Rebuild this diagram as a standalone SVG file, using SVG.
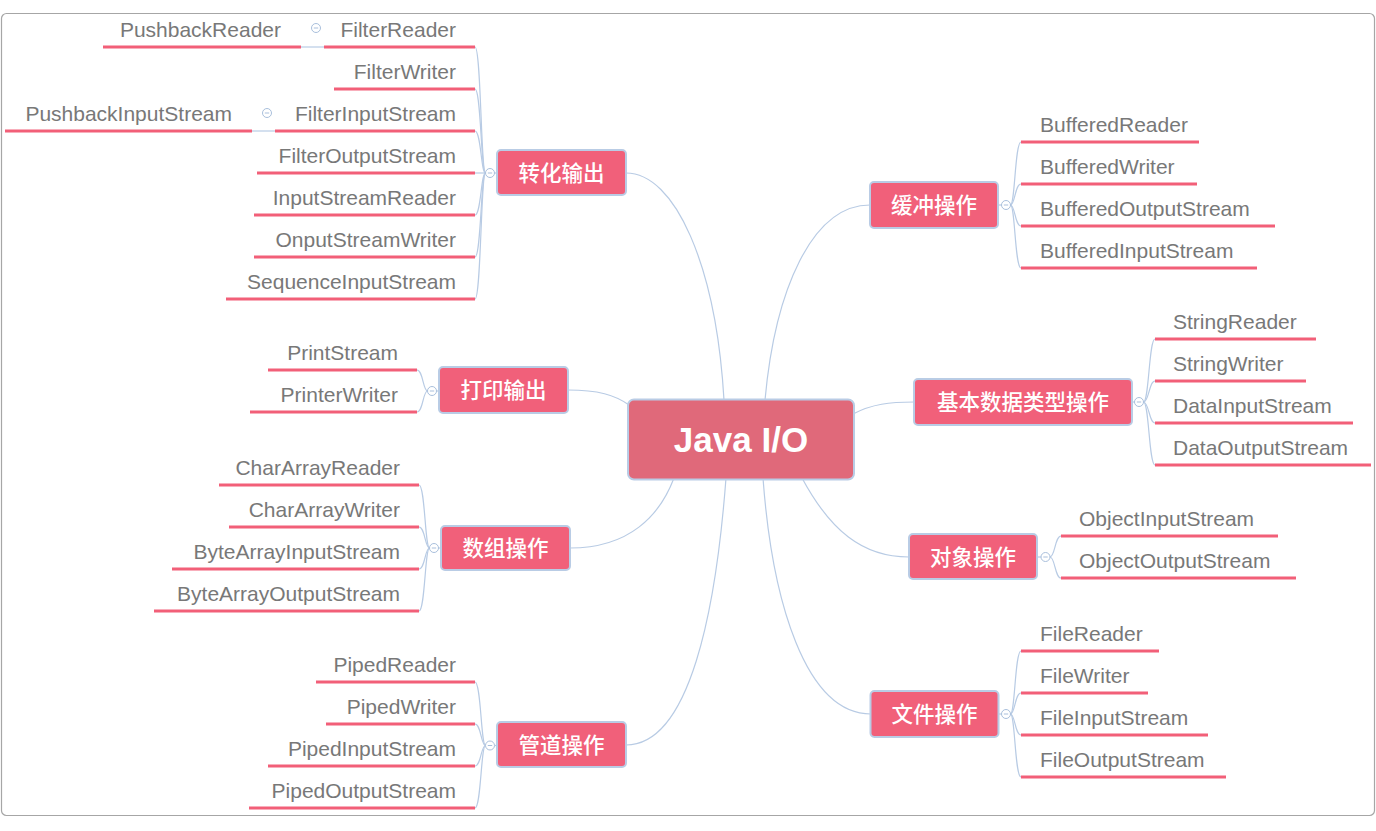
<svg xmlns="http://www.w3.org/2000/svg" width="1376" height="831" viewBox="0 0 1376 831">
<style>
.frame{fill:#fff;stroke:#a6a6a6;stroke-width:1.2}
.conn{fill:none;stroke:#b8cbe4;stroke-width:1.2}
.root{fill:#e0697a;stroke:#b9cce5;stroke-width:2}
.br{fill:#f1607a;stroke:#b9cce5;stroke-width:2}
.rt{font-family:"Liberation Sans",Arial,sans-serif;font-weight:bold;font-size:35px;fill:#fff;text-anchor:middle}
.bt{font-family:"Noto Sans CJK SC","Liberation Sans",sans-serif;font-size:21.5px;font-weight:500;fill:#fff;text-anchor:middle}
.lt{font-family:"Liberation Sans",Arial,sans-serif;font-size:21px;fill:#787878}
.le{text-anchor:end}
.ul{stroke:#f25f78;stroke-width:3}
.tog circle{fill:#fff;stroke:#a9bfdc;stroke-width:1}
.tog line{stroke:#a9bfdc;stroke-width:1}
</style>
<defs>
<g id="minus" class="tog"><circle cx="0" cy="0" r="4.5"/><line x1="-2.2" y1="0" x2="2.2" y2="0"/></g>
</defs>
<rect class="frame" x="1.5" y="13.5" width="1373" height="802" rx="5"/>

<g id="connectors">
<!-- root to branches -->
<path class="conn" d="M626 173 C675 173 716 265 724 400"/>
<path class="conn" d="M765 400 C775 290 812 205 870 205"/>
<path class="conn" d="M568 390 C598 390 615 395 629 405"/>
<path class="conn" d="M570 548 C630 548 660 515 674 478"/>
<path class="conn" d="M626 745 C690 745 716 610 726 478"/>
<path class="conn" d="M763 478 C772 600 805 714 871 714"/>
<path class="conn" d="M802 478 C830 530 862 557 909 557"/>
<path class="conn" d="M853 414 C872 404 890 402 914 402"/>
<!-- 转化输出 -->
<path class="conn" d="M494.5 173 L497 173"/>
<path class="conn" d="M485.5 173 C481 173 481 47 475 47"/>
<path class="conn" d="M485.5 173 C481 173 481 89 475 89"/>
<path class="conn" d="M485.5 173 C481 173 481 131 475 131"/>
<path class="conn" d="M485.5 173 L475 173"/>
<path class="conn" d="M485.5 173 C481 173 481 215 475 215"/>
<path class="conn" d="M485.5 173 C481 173 481 257 475 257"/>
<path class="conn" d="M485.5 173 C481 173 481 299 475 299"/>
<path class="conn" d="M301 47 L324 47"/>
<path class="conn" d="M252 131 L275 131"/>
<!-- 打印输出 -->
<path class="conn" d="M436.5 391 L439 391"/>
<path class="conn" d="M427.5 391 C423 391 423 370 417 370"/>
<path class="conn" d="M427.5 391 C423 391 423 412 417 412"/>
<!-- 数组操作 -->
<path class="conn" d="M438.5 548 L441 548"/>
<path class="conn" d="M429.5 548 C425 548 425 485 419 485"/>
<path class="conn" d="M429.5 548 C425 548 425 527 419 527"/>
<path class="conn" d="M429.5 548 C425 548 425 569 419 569"/>
<path class="conn" d="M429.5 548 C425 548 425 611 419 611"/>
<!-- 管道操作 -->
<path class="conn" d="M494.5 745.5 L497 745.5"/>
<path class="conn" d="M485.5 745.5 C481 745.5 481 682 475 682"/>
<path class="conn" d="M485.5 745.5 C481 745.5 481 724 475 724"/>
<path class="conn" d="M485.5 745.5 C481 745.5 481 766 475 766"/>
<path class="conn" d="M485.5 745.5 C481 745.5 481 808 475 808"/>
<!-- 缓冲操作 -->
<path class="conn" d="M998 205 L1001.5 205"/>
<path class="conn" d="M1010.5 205 C1015 205 1015 142 1021 142"/>
<path class="conn" d="M1010.5 205 C1015 205 1015 184 1021 184"/>
<path class="conn" d="M1010.5 205 C1015 205 1015 226 1021 226"/>
<path class="conn" d="M1010.5 205 C1015 205 1015 268 1021 268"/>
<!-- 基本数据类型操作 -->
<path class="conn" d="M1132 402 L1134.5 402"/>
<path class="conn" d="M1143.5 402 C1149 402 1149 339 1155 339"/>
<path class="conn" d="M1143.5 402 C1149 402 1149 381 1155 381"/>
<path class="conn" d="M1143.5 402 C1149 402 1149 423 1155 423"/>
<path class="conn" d="M1143.5 402 C1149 402 1149 465 1155 465"/>
<!-- 对象操作 -->
<path class="conn" d="M1037 557 L1041 557"/>
<path class="conn" d="M1050 557 C1055 557 1055 536 1061 536"/>
<path class="conn" d="M1050 557 C1055 557 1055 578 1061 578"/>
<!-- 文件操作 -->
<path class="conn" d="M998.5 714 L1001.5 714"/>
<path class="conn" d="M1010.5 714 C1015 714 1015 651 1021 651"/>
<path class="conn" d="M1010.5 714 C1015 714 1015 693 1021 693"/>
<path class="conn" d="M1010.5 714 C1015 714 1015 735 1021 735"/>
<path class="conn" d="M1010.5 714 C1015 714 1015 777 1021 777"/>
</g>

<g id="root">
<rect class="root" x="628" y="399.5" width="226" height="80" rx="6"/>
<text class="rt" x="741" y="452">Java I/O</text>
</g>

<g id="b-zhuanhua">
<rect class="br" x="497" y="150" width="129" height="45" rx="4"/>
<text class="bt" x="561.5" y="180.5">转化输出</text>
<use href="#minus" x="490" y="173"/>
</g>
<g id="b-dayin">
<rect class="br" x="439" y="367" width="129" height="46" rx="4"/>
<text class="bt" x="503.5" y="398">打印输出</text>
<use href="#minus" x="432" y="391"/>
</g>
<g id="b-shuzu">
<rect class="br" x="441" y="526" width="129" height="44" rx="4"/>
<text class="bt" x="505.5" y="556">数组操作</text>
<use href="#minus" x="434" y="548"/>
</g>
<g id="b-guandao">
<rect class="br" x="497" y="722" width="129" height="45" rx="4"/>
<text class="bt" x="561.5" y="752.5">管道操作</text>
<use href="#minus" x="490" y="745.5"/>
</g>
<g id="b-huanchong">
<rect class="br" x="870" y="182" width="128" height="46" rx="4"/>
<text class="bt" x="934" y="213">缓冲操作</text>
<use href="#minus" x="1006" y="205"/>
</g>
<g id="b-jiben">
<rect class="br" x="914" y="379" width="218" height="46" rx="4"/>
<text class="bt" x="1023" y="410">基本数据类型操作</text>
<use href="#minus" x="1139" y="402"/>
</g>
<g id="b-duixiang">
<rect class="br" x="909" y="534" width="128" height="45" rx="4"/>
<text class="bt" x="973" y="564.5">对象操作</text>
<use href="#minus" x="1045.5" y="557"/>
</g>
<g id="b-wenjian">
<rect class="br" x="870.5" y="691" width="128" height="46" rx="4"/>
<text class="bt" x="934.5" y="722">文件操作</text>
<use href="#minus" x="1006" y="714"/>
</g>

<!-- left leaves: 转化输出 -->
<g id="l-FilterReader"><line class="ul" x1="324" y1="47" x2="475" y2="47"/><text class="lt le" x="456" y="36.5">FilterReader</text></g>
<g id="l-PushbackReader"><line class="ul" x1="103" y1="47" x2="301" y2="47"/><text class="lt le" x="281" y="36.5">PushbackReader</text><use href="#minus" x="316" y="28"/></g>
<g id="l-FilterWriter"><line class="ul" x1="334" y1="89" x2="475" y2="89"/><text class="lt le" x="456" y="78.5">FilterWriter</text></g>
<g id="l-FilterInputStream"><line class="ul" x1="275" y1="131" x2="475" y2="131"/><text class="lt le" x="456" y="120.5">FilterInputStream</text></g>
<g id="l-PushbackInputStream"><line class="ul" x1="5" y1="131" x2="252" y2="131"/><text class="lt le" x="232" y="120.5">PushbackInputStream</text><use href="#minus" x="267" y="113"/></g>
<g id="l-FilterOutputStream"><line class="ul" x1="257" y1="173" x2="475" y2="173"/><text class="lt le" x="456" y="162.5">FilterOutputStream</text></g>
<g id="l-InputStreamReader"><line class="ul" x1="254" y1="215" x2="475" y2="215"/><text class="lt le" x="456" y="204.5">InputStreamReader</text></g>
<g id="l-OnputStreamWriter"><line class="ul" x1="254" y1="257" x2="475" y2="257"/><text class="lt le" x="456" y="246.5">OnputStreamWriter</text></g>
<g id="l-SequenceInputStream"><line class="ul" x1="226" y1="299" x2="475" y2="299"/><text class="lt le" x="456" y="288.5">SequenceInputStream</text></g>

<!-- 打印输出 -->
<g id="l-PrintStream"><line class="ul" x1="268" y1="370" x2="417" y2="370"/><text class="lt le" x="398" y="359.5">PrintStream</text></g>
<g id="l-PrinterWriter"><line class="ul" x1="250" y1="412" x2="417" y2="412"/><text class="lt le" x="398" y="401.5">PrinterWriter</text></g>

<!-- 数组操作 -->
<g id="l-CharArrayReader"><line class="ul" x1="219" y1="485" x2="419" y2="485"/><text class="lt le" x="400" y="474.5">CharArrayReader</text></g>
<g id="l-CharArrayWriter"><line class="ul" x1="229" y1="527" x2="419" y2="527"/><text class="lt le" x="400" y="516.5">CharArrayWriter</text></g>
<g id="l-ByteArrayInputStream"><line class="ul" x1="172" y1="569" x2="419" y2="569"/><text class="lt le" x="400" y="558.5">ByteArrayInputStream</text></g>
<g id="l-ByteArrayOutputStream"><line class="ul" x1="154" y1="611" x2="419" y2="611"/><text class="lt le" x="400" y="600.5">ByteArrayOutputStream</text></g>

<!-- 管道操作 -->
<g id="l-PipedReader"><line class="ul" x1="316" y1="682" x2="475" y2="682"/><text class="lt le" x="456" y="671.5">PipedReader</text></g>
<g id="l-PipedWriter"><line class="ul" x1="326" y1="724" x2="475" y2="724"/><text class="lt le" x="456" y="713.5">PipedWriter</text></g>
<g id="l-PipedInputStream"><line class="ul" x1="268" y1="766" x2="475" y2="766"/><text class="lt le" x="456" y="755.5">PipedInputStream</text></g>
<g id="l-PipedOutputStream"><line class="ul" x1="249" y1="808" x2="475" y2="808"/><text class="lt le" x="456" y="797.5">PipedOutputStream</text></g>

<!-- 缓冲操作 -->
<g id="r-BufferedReader"><line class="ul" x1="1021" y1="142" x2="1199" y2="142"/><text class="lt" x="1040" y="131.5">BufferedReader</text></g>
<g id="r-BufferedWriter"><line class="ul" x1="1021" y1="184" x2="1197" y2="184"/><text class="lt" x="1040" y="173.5">BufferedWriter</text></g>
<g id="r-BufferedOutputStream"><line class="ul" x1="1021" y1="226" x2="1275" y2="226"/><text class="lt" x="1040" y="215.5">BufferedOutputStream</text></g>
<g id="r-BufferedInputStream"><line class="ul" x1="1021" y1="268" x2="1257" y2="268"/><text class="lt" x="1040" y="257.5">BufferedInputStream</text></g>

<!-- 基本数据类型操作 -->
<g id="r-StringReader"><line class="ul" x1="1155" y1="339" x2="1316" y2="339"/><text class="lt" x="1173" y="328.5">StringReader</text></g>
<g id="r-StringWriter"><line class="ul" x1="1155" y1="381" x2="1306" y2="381"/><text class="lt" x="1173" y="370.5">StringWriter</text></g>
<g id="r-DataInputStream"><line class="ul" x1="1155" y1="423" x2="1353" y2="423"/><text class="lt" x="1173" y="412.5">DataInputStream</text></g>
<g id="r-DataOutputStream"><line class="ul" x1="1155" y1="465" x2="1371" y2="465"/><text class="lt" x="1173" y="454.5">DataOutputStream</text></g>

<!-- 对象操作 -->
<g id="r-ObjectInputStream"><line class="ul" x1="1061" y1="536" x2="1278" y2="536"/><text class="lt" x="1079" y="525.5">ObjectInputStream</text></g>
<g id="r-ObjectOutputStream"><line class="ul" x1="1061" y1="578" x2="1296" y2="578"/><text class="lt" x="1079" y="567.5">ObjectOutputStream</text></g>

<!-- 文件操作 -->
<g id="r-FileReader"><line class="ul" x1="1021" y1="651" x2="1159" y2="651"/><text class="lt" x="1040" y="640.5">FileReader</text></g>
<g id="r-FileWriter"><line class="ul" x1="1021" y1="693" x2="1148" y2="693"/><text class="lt" x="1040" y="682.5">FileWriter</text></g>
<g id="r-FileInputStream"><line class="ul" x1="1021" y1="735" x2="1208" y2="735"/><text class="lt" x="1040" y="724.5">FileInputStream</text></g>
<g id="r-FileOutputStream"><line class="ul" x1="1021" y1="777" x2="1226" y2="777"/><text class="lt" x="1040" y="766.5">FileOutputStream</text></g>
</svg>
